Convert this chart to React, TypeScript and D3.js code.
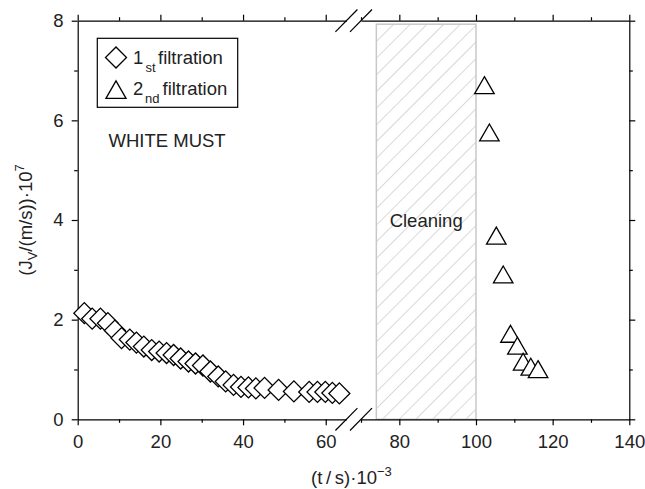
import React, { useRef, useEffect } from 'react';
import * as d3 from 'd3';

// 1st filtration (diamonds): time in 10^3 s, flux in 10^-7 m/s
const firstTime = [1.6, 3.5, 5.5, 7.3, 9.0, 10.6, 12.6, 14.2, 16.0, 17.9, 19.7, 21.5, 23.2, 24.9, 26.8, 28.5,
    30.3, 32.1, 34.0, 35.8, 37.7, 39.5, 41.3, 43.1, 45.2, 48.6, 52.3, 56.0, 58.0, 59.9, 61.6, 63.3];
const firstFlux = [2.13, 2.02, 2.02, 1.93, 1.78, 1.63, 1.6, 1.54, 1.46, 1.39, 1.36, 1.33, 1.29, 1.22, 1.16, 1.12,
    1.08, 0.96, 0.86, 0.76, 0.69, 0.65, 0.64, 0.62, 0.63, 0.59, 0.56, 0.55, 0.55, 0.55, 0.53, 0.52];

// 2nd filtration (triangles)
const secondTime = [102.2, 103.5, 105.3, 107.1, 109.0, 110.8, 112.3, 114.3, 116.2];
const secondFlux = [6.65, 5.7, 3.63, 2.85, 1.66, 1.42, 1.1, 1.0, 0.95];

// cleaning period
const cleaningSpan = [74, 100];

const yMajor = [0, 2, 4, 6, 8];
const yMinor = [1, 3, 5, 7];
const leftMajor = [0, 20, 40, 60];
const leftMinor = [10, 30, 50];
const rightMajor = [80, 100, 120, 140];
const rightMinor = [70, 90, 110, 130];

const App = () => {
    const svgRef = useRef(null);

    useEffect(() => {
        const svg = d3.select(svgRef.current);
        svg.selectAll('*').remove();

        const width = 645;
        const height = 489;
        const font = 'Liberation Sans, Arial, Helvetica, sans-serif';
        const fs = 18.5;

        // broken x axis: two segments
        const xLeft = d3.scaleLinear().domain([0, 65]).range([77.7, 346.4]);
        const xRight = d3.scaleLinear().domain([70, 140]).range([361, 629.3]);
        const y = d3.scaleLinear().domain([0, 8]).range([419.3, 20.7]);
        const x = (v) => (v <= 67 ? xLeft(v) : xRight(v));

        svg.attr('width', width).attr('height', height).attr('viewBox', [0, 0, width, height]);

        // hatch pattern
        const defs = svg.append('defs');
        const pat = defs.append('pattern')
            .attr('id', 'hatch')
            .attr('patternUnits', 'userSpaceOnUse')
            .attr('width', 11.8)
            .attr('height', 11.8)
            .attr('patternTransform', 'rotate(45)');
        pat.append('line')
            .attr('x1', 0).attr('y1', 0).attr('x2', 0).attr('y2', 11.8)
            .attr('stroke', '#c4c4c4').attr('stroke-width', 1.3);

        // cleaning region
        svg.append('rect')
            .attr('x', xRight(cleaningSpan[0]))
            .attr('y', y(7.93))
            .attr('width', xRight(cleaningSpan[1]) - xRight(cleaningSpan[0]))
            .attr('height', y(0) - y(7.93))
            .attr('fill', 'url(#hatch)')
            .attr('stroke', '#c8c8c8')
            .attr('stroke-width', 1.5);

        svg.append('text')
            .attr('x', (xRight(cleaningSpan[0]) + xRight(cleaningSpan[1])) / 2)
            .attr('y', y(3.86))
            .attr('text-anchor', 'middle')
            .attr('font-family', font)
            .attr('font-size', fs)
            .attr('fill', '#222')
            .text('Cleaning');

        // axes helper
        const styleAxis = (g) => {
            g.attr('font-family', font).attr('font-size', fs).attr('color', '#000');
            g.selectAll('.tick text').attr('fill', '#222');
            g.selectAll('.tick line').attr('stroke-width', 1.2);
            g.select('.domain').attr('stroke-width', 1.2);
        };
        const minor = (g) => {
            g.select('.domain').remove();
            g.selectAll('.tick line').attr('stroke-width', 1.2);
        };

        const bottom = y(0);
        const top = y(8);

        [[xLeft, leftMajor, leftMinor], [xRight, rightMajor, rightMinor]].forEach(([sc, maj, mnr]) => {
            svg.append('g')
                .attr('transform', `translate(0,${bottom})`)
                .call(d3.axisBottom(sc).tickValues(maj).tickSize(6).tickSizeOuter(0).tickPadding(9.8))
                .call(styleAxis);
            svg.append('g')
                .attr('transform', `translate(0,${bottom})`)
                .call(d3.axisBottom(sc).tickValues(mnr).tickSize(3.5).tickFormat(() => ''))
                .call(minor);
            svg.append('g')
                .attr('transform', `translate(0,${top})`)
                .call(d3.axisTop(sc).tickValues(maj).tickSize(6).tickSizeOuter(0).tickFormat(() => ''))
                .call(styleAxis);
            svg.append('g')
                .attr('transform', `translate(0,${top})`)
                .call(d3.axisTop(sc).tickValues(mnr).tickSize(3.5).tickFormat(() => ''))
                .call(minor);
        });

        svg.append('g')
            .attr('transform', `translate(${xLeft(0)},0)`)
            .call(d3.axisLeft(y).tickValues(yMajor).tickSize(6).tickSizeOuter(0).tickPadding(8.2))
            .call(styleAxis);
        svg.append('g')
            .attr('transform', `translate(${xLeft(0)},0)`)
            .call(d3.axisLeft(y).tickValues(yMinor).tickSize(3.5).tickFormat(() => ''))
            .call(minor);
        svg.append('g')
            .attr('transform', `translate(${xRight(140)},0)`)
            .call(d3.axisRight(y).tickValues(yMajor).tickSize(6).tickSizeOuter(0).tickFormat(() => ''))
            .call(styleAxis);
        svg.append('g')
            .attr('transform', `translate(${xRight(140)},0)`)
            .call(d3.axisRight(y).tickValues(yMinor).tickSize(3.5).tickFormat(() => ''))
            .call(minor);

        // break marks
        const breaks = [];
        [bottom, top].forEach(yy => {
            [xLeft(65), xRight(70)].forEach(xx => breaks.push([xx, yy]));
        });
        svg.append('g')
            .selectAll('line')
            .data(breaks)
            .join('line')
            .attr('x1', d => d[0] - 11)
            .attr('y1', d => d[1] + 11.2)
            .attr('x2', d => d[0] + 11)
            .attr('y2', d => d[1] - 11.2)
            .attr('stroke', '#000')
            .attr('stroke-width', 1.2);

        // data
        const first = firstTime.map((t, i) => ({ t, v: firstFlux[i] }));
        const second = secondTime.map((t, i) => ({ t, v: secondFlux[i] }));
        const diamond = d3.symbol(d3.symbolSquare, 220);
        const triangle = d3.symbol(d3.symbolTriangle, 165);

        svg.append('g')
            .selectAll('path')
            .data(first)
            .join('path')
            .attr('d', diamond)
            .attr('transform', d => `translate(${x(d.t)},${y(d.v)}) rotate(45)`)
            .attr('fill', '#fff')
            .attr('stroke', '#000')
            .attr('stroke-width', 1.3);

        svg.append('g')
            .selectAll('path')
            .data(second)
            .join('path')
            .attr('d', triangle)
            .attr('transform', d => `translate(${x(d.t)},${y(d.v)})`)
            .attr('fill', '#fff')
            .attr('stroke', '#000')
            .attr('stroke-width', 1.3);

        // legend
        const lg = svg.append('g').attr('font-family', font).attr('fill', '#222');
        lg.append('rect')
            .attr('x', 97.3).attr('y', 38.3).attr('width', 140.4).attr('height', 69)
            .attr('fill', '#fff').attr('stroke', '#000').attr('stroke-width', 1.2);
        lg.append('path')
            .attr('d', diamond)
            .attr('transform', 'translate(116,57.5) rotate(45)')
            .attr('fill', '#fff').attr('stroke', '#000').attr('stroke-width', 1.3);
        lg.append('path')
            .attr('d', d3.symbol(d3.symbolTriangle, 175))
            .attr('transform', 'translate(116,92.5)')
            .attr('fill', '#fff').attr('stroke', '#000').attr('stroke-width', 1.3);

        const row1 = lg.append('text').attr('y', 64).attr('font-size', fs);
        row1.append('tspan').attr('x', 133).text('1');
        row1.append('tspan').attr('x', 145.5).attr('y', 71.5).attr('font-size', 13).text('st');
        row1.append('tspan').attr('x', 158).attr('y', 64).text('filtration');
        const row2 = lg.append('text').attr('y', 95).attr('font-size', fs);
        row2.append('tspan').attr('x', 133).text('2');
        row2.append('tspan').attr('x', 145).attr('y', 102.5).attr('font-size', 13).text('nd');
        row2.append('tspan').attr('x', 162.5).attr('y', 95).text('filtration');

        svg.append('text')
            .attr('x', 108.5).attr('y', 146.7)
            .attr('font-family', font).attr('font-size', fs).attr('fill', '#222')
            .text('WHITE MUST');

        // axis titles
        const yt = svg.append('text')
            .attr('transform', `translate(32,${(top + bottom) / 2}) rotate(-90)`)
            .attr('text-anchor', 'middle')
            .attr('font-family', font).attr('font-size', fs).attr('fill', '#222');
        yt.append('tspan').text('(J');
        yt.append('tspan').attr('dy', 5).attr('font-size', 13).text('V');
        yt.append('tspan').attr('dy', -5).text('/(m/s))\u00b710');
        yt.append('tspan').attr('dy', -8).attr('font-size', 13).text('7');

        const xt = svg.append('text')
            .attr('x', 311).attr('y', 484)
            .attr('font-family', font).attr('font-size', fs).attr('fill', '#222');
        xt.append('tspan').text('(t\u2009/\u2009s)\u00b710');
        xt.append('tspan').attr('dy', -8).attr('font-size', 13).text('\u22123');
    }, []);

    return <svg ref={svgRef} style={{ position: 'absolute', left: 0, top: 0 }}></svg>;
};

export default App;
